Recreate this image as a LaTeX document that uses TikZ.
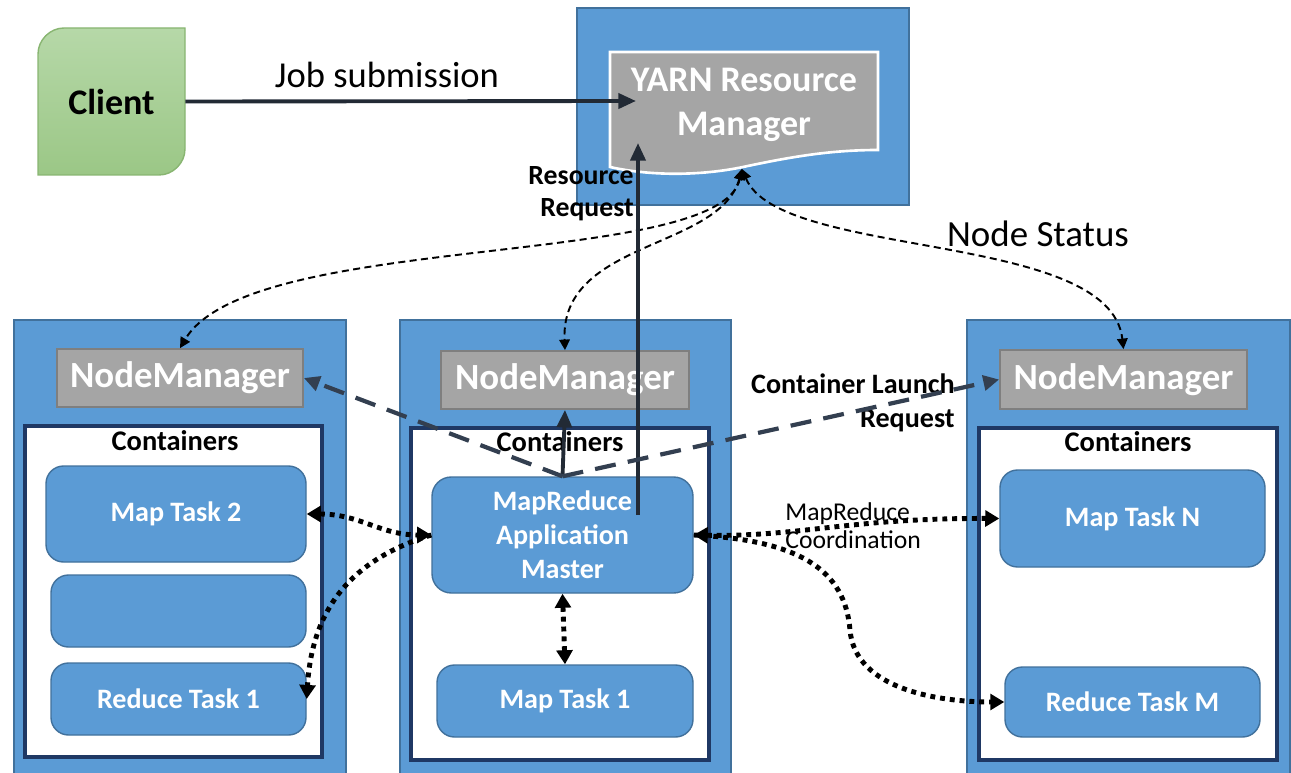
\documentclass[tikz,border=0pt]{standalone}
\usepackage{fontspec}
\setmainfont{Carlito}
\usetikzlibrary{arrows.meta}

\definecolor{hostblue}{HTML}{5B9BD5}
\definecolor{hostedge}{HTML}{41719C}
\definecolor{mgrgray}{HTML}{A5A5A5}
\definecolor{mgredge}{HTML}{7F7F7F}
\definecolor{poolnavy}{HTML}{1F3864}
\definecolor{linkdark}{HTML}{222A35}
\definecolor{launchdark}{HTML}{333F50}
\definecolor{clienttop}{HTML}{B6D8A8}
\definecolor{clientbot}{HTML}{9BC786}
\definecolor{clientedge}{HTML}{88B571}

\begin{document}
\begin{tikzpicture}[x=0.02cm, y=-0.02cm,
        boxsize/.style 2 args={minimum width=#1*0.02cm, minimum height=#2*0.02cm, inner sep=0pt},
        host/.style={draw=hostedge, fill=hostblue, line width=0.8pt},
        manager/.style={draw=mgredge, fill=mgrgray, line width=1pt, text=white,
                        font=\fontsize{21}{24}\selectfont\bfseries},
        pool/.style={draw=poolnavy, fill=white, line width=2pt},
        pooltitle/.style={inner sep=0pt, font=\fontsize{16.2}{19}\selectfont\bfseries},
        task/.style={draw=hostedge, fill=hostblue, line width=0.8pt, rounded corners=10pt,
                     text=white, align=center, font=\fontsize{16}{19.3}\selectfont\bfseries},
        label/.style={inner sep=0pt},
        solidlink/.style={draw=linkdark, line width=2.2pt, -{Triangle[length=10pt,width=8.5pt]}},
        launch/.style={draw=launchdark, line width=2.4pt, dash pattern=on 12pt off 7pt,
                       -{Triangle[length=9pt,width=8.5pt]}},
        status/.style={draw=black, line width=1.1pt, dash pattern=on 4pt off 2.5pt,
                       {Triangle[length=6pt,width=6pt]}-{Triangle[length=6pt,width=6pt]}},
        coordsync/.style={draw=black, line width=2.8pt, dash pattern=on 2.8pt off 2.8pt}]

    \useasboundingbox (0,0) rectangle (1291,773);

    % client
    \path[top color=clienttop, bottom color=clientbot, draw=clientedge, line width=0.8pt]
        (38,175) -- (38,54) .. controls (38,40) and (50,28) .. (64,28) -- (185,28) -- (185,149)
        .. controls (185,163) and (173,175) .. (159,175) -- cycle;
    \node[boxsize={147}{147}, font=\fontsize{20.5}{24}\selectfont\bfseries] (client) at (111.5,101.5) {Client};

    % resource manager
    \node[host, boxsize={332}{197}] (rmhost) at (743,106.5) {};
    \draw[white, line width=1.5pt, fill=mgrgray] (610,52) -- (878,52) -- (878,150)
        .. controls (830,150) and (790,157) .. (743,167)
        .. controls (700,176) and (650,176) .. (610,167) -- cycle;
    \node[text=white, align=center, font=\fontsize{20.5}{25}\selectfont\bfseries] (rm) at (744,105) {YARN Resource\\Manager};
    \coordinate (rmwave) at (742,169);
    \coordinate (jobend) at (636,101);
    \coordinate (rrend) at (638,143);
    \coordinate (rrstart) at (638,515);

    % hosts
    \node[host, boxsize={332}{460}] (hostA) at (180,550) {};
    \node[host, boxsize={331}{460}] (hostB) at (565.5,550) {};
    \node[host, boxsize={323}{460}] (hostC) at (1128.5,550) {};

    \node[manager, boxsize={246}{58}] (nmA) at (180,378) {NodeManager};
    \node[manager, boxsize={248}{58}] (nmB) at (565,380) {NodeManager};
    \node[manager, boxsize={247}{59}] (nmC) at (1123.5,379.5) {NodeManager};

    \node[pool, boxsize={297}{331}] (poolA) at (173.5,591.5) {};
    \node[pool, boxsize={298}{332}] (poolB) at (560,594) {};
    \node[pool, boxsize={298}{332}] (poolC) at (1128,594) {};
    \node[pooltitle] (titleA) at (175,441) {Containers};
    \node[pooltitle] (titleB) at (560,442) {Containers};
    \node[pooltitle] (titleC) at (1128,442) {Containers};

    % tasks
    \node[task, boxsize={260}{96}] (maptwo) at (176,514) {Map Task 2};
    \node[task, boxsize={255}{72}] (spare) at (178.5,611) {};
    \node[task, boxsize={255}{72}] (reduceone) at (178.5,699) {Reduce Task 1};
    \node[task, boxsize={261}{116}, rounded corners=11pt] (appmaster) at (562.5,535) {MapReduce\\Application\\Master};
    \node[task, boxsize={256}{72}] (mapone) at (565,701) {Map Task 1};
    \node[task, boxsize={265}{97}] (mapn) at (1132.5,518.5) {Map Task N};
    \node[task, boxsize={255}{70}] (reducem) at (1132.5,702) {Reduce Task M};

    % labels
    \node[label, font=\fontsize{20.8}{24}\selectfont] (jobtxt) at (387,75) {Job submission};
    \node[label, anchor=east, align=right, font=\fontsize{15.8}{18.1}\selectfont\bfseries] (rrtxt) at (634,194) {Resource\\Request};
    \node[label, font=\fontsize{21}{24}\selectfont] (nstxt) at (1038,234) {Node Status};
    \node[label, anchor=east, align=right, font=\fontsize{16}{19.3}\selectfont\bfseries] (cltxt) at (955,403) {Container Launch\\Request};
    \node[label, anchor=west, align=left, font=\fontsize{14.6}{15.9}\selectfont] (mrtxt) at (785,526) {MapReduce\\Coordination};

    % node status
    \draw[status] (rmwave) .. controls (720,270) and (250,230) .. (nmA.north);
    \draw[status] (rmwave) .. controls (720,250) and (560,240) .. (nmB.north);
    \draw[status] (rmwave) .. controls (780,260) and (1110,230) .. (nmC.north);

    % submission and requests
    \draw[solidlink] (client.east) -- (jobend);
    \draw[solidlink] (rrstart) -- (rrend);
    \draw[solidlink] (appmaster.north) -- (nmB.south);
    \draw[launch] (appmaster.north) -- (nmA.east);
    \draw[launch] (appmaster.north) -- (nmC.west);

    % coordination
    \draw[coordsync, {Triangle[length=8pt,width=9pt]}-{Triangle[length=8pt,width=9pt]}]
        (maptwo.east) .. controls (360,514) and (380,535) .. (appmaster.west);
    \draw[coordsync, -{Triangle[length=8pt,width=9pt]}]
        (appmaster.west) .. controls (350,560) and (312,610) .. (reduceone.east);
    \draw[coordsync, {Triangle[length=8pt,width=9pt]}-{Triangle[length=8pt,width=9pt]}]
        (appmaster.south) -- (mapone.north);
    \draw[coordsync, {Triangle[length=8pt,width=9pt]}-{Triangle[length=8pt,width=9pt]}]
        (appmaster.east) .. controls (800,537) and (850,518) .. (mapn.west);
    \draw[coordsync, -{Triangle[length=8pt,width=9pt]}]
        (appmaster.east) .. controls (800,540) and (845,570) .. (850,630)
        .. controls (855,690) and (940,702) .. (reducem.west);
\end{tikzpicture}
\end{document}
